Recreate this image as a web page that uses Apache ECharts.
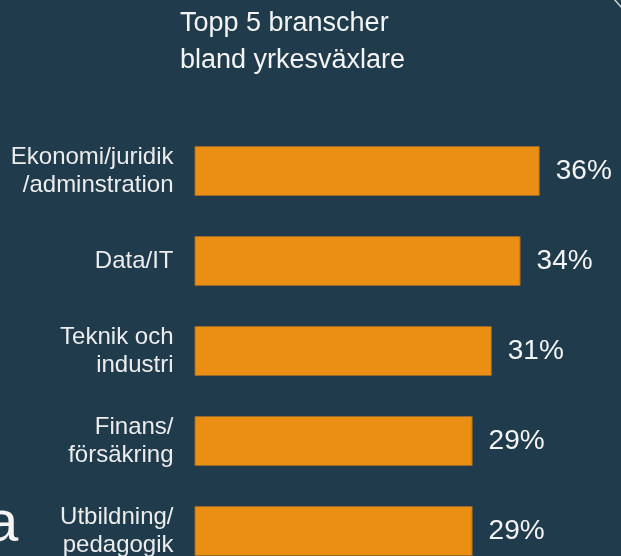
<!DOCTYPE html>
<html>
<head>
<meta charset="utf-8">
<script src="https://cdn.jsdelivr.net/npm/echarts@6/dist/echarts.min.js"></script>
<style>
  html, body { margin: 0; padding: 0; background: #1f3b4c; }
  #chart { width: 621px; height: 556px; }
</style>
</head>
<body>
<div id="chart"></div>
<script>
// data
const branscher = [
  'Ekonomi/juridik\n/adminstration',
  'Data/IT',
  'Teknik och\nindustri',
  'Finans/\nförsäkring',
  'Utbildning/\npedagogik'
];
const andel = [36, 34, 31, 29, 29];

const FONT = "'Liberation Sans', Arial, sans-serif";

let myChart = echarts.init(document.getElementById('chart'));

option = {
  backgroundColor: '#1f3b4c',
  title: {
    text: 'Topp 5 branscher\nbland yrkesväxlare',
    left: 175,
    top: 0,
    textStyle: {
      color: '#f4f4f4',
      fontFamily: FONT,
      fontWeight: 'normal',
      fontSize: 27,
      lineHeight: 37
    }
  },
  grid: {
    left: 194.5,
    top: 126,
    width: 383.6,
    height: 450,
    outerBoundsMode: 'none'
  },
  xAxis: {
    type: 'value',
    min: 0,
    max: 40,
    show: false
  },
  yAxis: {
    type: 'category',
    inverse: true,
    data: branscher,
    axisLine: {show: false},
    axisTick: {show: false},
    axisLabel: {
      margin: 21,
      color: '#ececec',
      fontFamily: FONT,
      fontSize: 24,
      lineHeight: 28
    }
  },
  series: [
    {
      type: 'bar',
      data: andel,
      barWidth: 50,
      itemStyle: {
        color: '#eb8f14',
        borderColor: '#9c6a28',
        borderWidth: 1
      },
      label: {
        show: true,
        position: 'right',
        distance: 16,
        formatter: '{c}%',
        color: '#f4f4f4',
        fontFamily: FONT,
        fontSize: 28
      }
    }
  ],
  graphic: [
    {
      type: 'text',
      left: -14,
      top: 496,
      style: {
        text: 'a',
        fill: '#f4f4f4',
        font: "58px 'Liberation Sans', Arial, sans-serif"
      }
    },
    {
      type: 'line',
      shape: {x1: 614, y1: -1, x2: 622, y2: 8},
      style: {stroke: '#c8d4da', lineWidth: 1.5}
    }
  ]
};

myChart.setOption(option);
</script>
</body>
</html>
